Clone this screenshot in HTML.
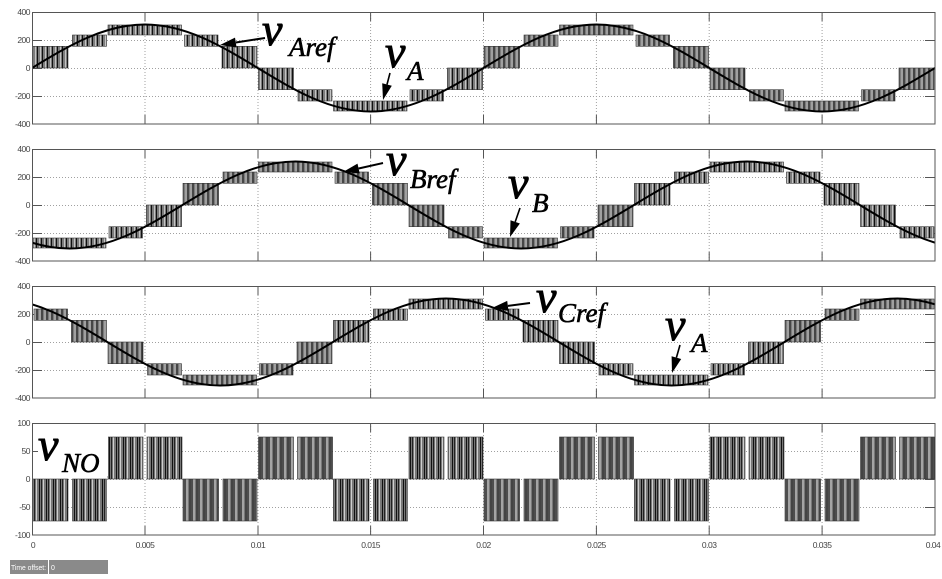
<!DOCTYPE html>
<html>
<head>
<meta charset="utf-8">
<style>
  html,body{margin:0;padding:0;background:#fff;}
  svg{display:block;}
  .tl{font-family:"Liberation Sans",sans-serif;font-size:8.5px;fill:#444;letter-spacing:-0.5px;}
  .v{font-family:"Liberation Serif",serif;font-style:italic;font-size:46px;fill:#000;stroke:#000;stroke-width:0.9px;}
  .s{font-family:"Liberation Serif",serif;font-style:italic;font-size:27px;fill:#000;stroke:#000;stroke-width:0.6px;}
</style>
</head>
<body>
<svg width="942" height="579" viewBox="0 0 942 579" xmlns="http://www.w3.org/2000/svg">
  <defs>
    <pattern id="pw" patternUnits="userSpaceOnUse" width="5" height="10">
      <rect width="5" height="10" fill="#7c7c7c"/>
      <rect x="0" width="1" height="10" fill="#111"/>
      <rect x="3" width="1" height="10" fill="#c4c4c4"/>
    </pattern>
    <pattern id="pw2" patternUnits="userSpaceOnUse" width="7" height="10">
      <rect width="7" height="10" fill="#787878"/>
      <rect x="0" width="1" height="10" fill="#111"/>
      <rect x="2" width="1" height="10" fill="#222"/>
      <rect x="4" width="1" height="10" fill="#cfcfcf"/>
    </pattern>
    <g id="ax">
      <g stroke="#a0a0a0" stroke-width="1" stroke-dasharray="1 2" fill="none">
        <line x1="32" y1="28.5" x2="935" y2="28.5"/>
        <line x1="32" y1="56.5" x2="935" y2="56.5"/>
        <line x1="32" y1="84.5" x2="935" y2="84.5"/>
        <line x1="145" y1="0" x2="145" y2="112"/>
        <line x1="258" y1="0" x2="258" y2="112"/>
        <line x1="370.6" y1="0" x2="370.6" y2="112"/>
        <line x1="483.5" y1="0" x2="483.5" y2="112"/>
        <line x1="596.4" y1="0" x2="596.4" y2="112"/>
        <line x1="709.2" y1="0" x2="709.2" y2="112"/>
        <line x1="822.1" y1="0" x2="822.1" y2="112"/>
      </g>
      <g stroke="#555" stroke-width="1">
        <line x1="32" y1="28.5" x2="42" y2="28.5"/>
        <line x1="32" y1="56.5" x2="42" y2="56.5"/>
        <line x1="32" y1="84.5" x2="42" y2="84.5"/>
        <line x1="925" y1="28.5" x2="935" y2="28.5"/>
        <line x1="925" y1="56.5" x2="935" y2="56.5"/>
        <line x1="925" y1="84.5" x2="935" y2="84.5"/>
        <line x1="145" y1="0" x2="145" y2="9"/><line x1="145" y1="103" x2="145" y2="112"/>
        <line x1="258" y1="0" x2="258" y2="9"/><line x1="258" y1="103" x2="258" y2="112"/>
        <line x1="370.6" y1="0" x2="370.6" y2="9"/><line x1="370.6" y1="103" x2="370.6" y2="112"/>
        <line x1="483.5" y1="0" x2="483.5" y2="9"/><line x1="483.5" y1="103" x2="483.5" y2="112"/>
        <line x1="596.4" y1="0" x2="596.4" y2="9"/><line x1="596.4" y1="103" x2="596.4" y2="112"/>
        <line x1="709.2" y1="0" x2="709.2" y2="9"/><line x1="709.2" y1="103" x2="709.2" y2="112"/>
        <line x1="822.1" y1="0" x2="822.1" y2="9"/><line x1="822.1" y1="103" x2="822.1" y2="112"/>
      </g>
    </g>
    <g id="fr"><rect x="32.5" y="0.5" width="902.5" height="111.5" fill="none" stroke="#555" stroke-width="1"/></g>
    <g id="stA" fill="url(#pw)" stroke="#333" stroke-width="0.6">
      <rect x="0.5" y="-21.7" width="35.5" height="21.7"/>
      <rect x="40.5" y="-33" width="34" height="11.3"/>
      <rect x="76" y="-43" width="73.5" height="10"/>
      <rect x="152.5" y="-33" width="33.5" height="11.3"/>
      <rect x="190" y="-21.7" width="35" height="21.7"/>
      <rect x="226.5" y="0" width="35" height="21.7"/>
      <rect x="266" y="21.7" width="34" height="11.3"/>
      <rect x="301.5" y="33" width="73.5" height="10"/>
      <rect x="378" y="21.7" width="33.5" height="11.3"/>
      <rect x="415.5" y="0" width="35" height="21.7"/>
    </g>
    <g id="nA" fill="url(#pw2)" stroke="#333" stroke-width="0.6">
      <rect x="0.5" y="0" width="35.5" height="42"/>
      <rect x="40.5" y="0" width="34" height="42"/>
      <rect x="76" y="-42" width="35" height="42"/>
      <rect x="115" y="-42" width="35" height="42"/>
    </g>
    <clipPath id="c1"><rect x="32" y="12" width="903" height="112"/></clipPath>
    <clipPath id="c2"><rect x="32" y="149" width="903" height="112"/></clipPath>
    <clipPath id="c3"><rect x="32" y="286" width="903" height="112"/></clipPath>
    <clipPath id="c4"><rect x="32" y="423" width="903" height="112"/></clipPath>
  </defs>

  <!-- axes grids -->
  <use href="#ax" transform="translate(0,12)"/>
  <use href="#ax" transform="translate(0,149)"/>
  <use href="#ax" transform="translate(0,286)"/>
  <use href="#ax" transform="translate(0,423)"/>

  <!-- Plot 1 -->
  <g clip-path="url(#c1)">
    <use href="#stA" transform="translate(32,68)"/>
    <use href="#stA" transform="translate(483.5,68)"/>
    <path d="M32,68 c36.81,-22.31 72.03,-43.54 112.875,-43.54 c40.85,0 76.07,21.23 112.875,43.54 c36.81,22.31 72.03,43.54 112.875,43.54 c40.85,0 76.07,-21.23 112.875,-43.54 c36.81,-22.31 72.03,-43.54 112.875,-43.54 c40.85,0 76.07,21.23 112.875,43.54 c36.81,22.31 72.03,43.54 112.875,43.54 c40.85,0 76.07,-21.23 112.875,-43.54" fill="none" stroke="#000" stroke-width="2"/>
  </g>

  <!-- Plot 2 -->
  <g clip-path="url(#c2)">
    <use href="#stA" transform="translate(-269,205)"/>
    <use href="#stA" transform="translate(182.5,205)"/>
    <use href="#stA" transform="translate(634,205)"/>
    <path d="M-269,205 c36.81,-22.31 72.03,-43.54 112.875,-43.54 c40.85,0 76.07,21.23 112.875,43.54 c36.81,22.31 72.03,43.54 112.875,43.54 c40.85,0 76.07,-21.23 112.875,-43.54 c36.81,-22.31 72.03,-43.54 112.875,-43.54 c40.85,0 76.07,21.23 112.875,43.54 c36.81,22.31 72.03,43.54 112.875,43.54 c40.85,0 76.07,-21.23 112.875,-43.54 c36.81,-22.31 72.03,-43.54 112.875,-43.54 c40.85,0 76.07,21.23 112.875,43.54 c36.81,22.31 72.03,43.54 112.875,43.54 c40.85,0 76.07,-21.23 112.875,-43.54" fill="none" stroke="#000" stroke-width="2"/>
  </g>

  <!-- Plot 3 -->
  <g clip-path="url(#c3)">
    <use href="#stA" transform="translate(-118.5,342)"/>
    <use href="#stA" transform="translate(333,342)"/>
    <use href="#stA" transform="translate(784.5,342)"/>
    <path d="M-118.5,342 c36.81,-22.31 72.03,-43.54 112.875,-43.54 c40.85,0 76.07,21.23 112.875,43.54 c36.81,22.31 72.03,43.54 112.875,43.54 c40.85,0 76.07,-21.23 112.875,-43.54 c36.81,-22.31 72.03,-43.54 112.875,-43.54 c40.85,0 76.07,21.23 112.875,43.54 c36.81,22.31 72.03,43.54 112.875,43.54 c40.85,0 76.07,-21.23 112.875,-43.54 c36.81,-22.31 72.03,-43.54 112.875,-43.54 c40.85,0 76.07,21.23 112.875,43.54 c36.81,22.31 72.03,43.54 112.875,43.54 c40.85,0 76.07,-21.23 112.875,-43.54" fill="none" stroke="#000" stroke-width="2"/>
  </g>

  <!-- Plot 4 -->
  <g clip-path="url(#c4)">
    <use href="#nA" transform="translate(32,479)"/>
    <use href="#nA" transform="translate(182.5,479)"/>
    <use href="#nA" transform="translate(333,479)"/>
    <use href="#nA" transform="translate(483.5,479)"/>
    <use href="#nA" transform="translate(634,479)"/>
    <use href="#nA" transform="translate(784.5,479)"/>
  </g>

  <!-- frames -->
  <use href="#fr" transform="translate(0,12)"/>
  <use href="#fr" transform="translate(0,149)"/>
  <use href="#fr" transform="translate(0,286)"/>
  <use href="#fr" transform="translate(0,423)"/>

  <!-- y tick labels -->
  <g class="tl" text-anchor="end">
    <text x="30" y="15">400</text><text x="30" y="43">200</text><text x="30" y="71">0</text><text x="30" y="99">-200</text><text x="30" y="127">-400</text>
    <text x="30" y="152">400</text><text x="30" y="180">200</text><text x="30" y="208">0</text><text x="30" y="236">-200</text><text x="30" y="264">-400</text>
    <text x="30" y="289">400</text><text x="30" y="317">200</text><text x="30" y="345">0</text><text x="30" y="373">-200</text><text x="30" y="401">-400</text>
    <text x="30" y="426">100</text><text x="30" y="454">50</text><text x="30" y="482">0</text><text x="30" y="510">-50</text><text x="30" y="538">-100</text>
  </g>
  <!-- x tick labels -->
  <g class="tl" text-anchor="middle">
    <text x="33" y="548">0</text>
    <text x="145" y="548">0.005</text>
    <text x="258" y="548">0.01</text>
    <text x="370.6" y="548">0.015</text>
    <text x="483.5" y="548">0.02</text>
    <text x="596.4" y="548">0.025</text>
    <text x="709.2" y="548">0.03</text>
    <text x="822.1" y="548">0.035</text>
    <text x="933" y="548">0.04</text>
  </g>

  <!-- Annotations -->
  <g fill="#000" stroke="none">
    <!-- plot 1 Aref -->
    <line x1="265" y1="38" x2="235.8" y2="42.5" stroke="#000" stroke-width="2"/>
    <polygon points="220,45 235,37.6 236.6,47.5"/>
    <text class="v" x="262" y="45">v</text><text class="s" x="289" y="56">Aref</text>
    <!-- plot 1 vA -->
    <line x1="390" y1="73" x2="387" y2="84.5" stroke="#000" stroke-width="1.6"/>
    <polygon points="383,100 382.2,83.3 391.8,85.8"/>
    <text class="v" x="385" y="67">v</text><text class="s" x="407" y="80">A</text>
    <!-- plot 2 Bref -->
    <line x1="383" y1="163" x2="358.6" y2="168.5" stroke="#000" stroke-width="2"/>
    <polygon points="343,172 357.5,163.6 359.7,173.4"/>
    <text class="v" x="386" y="175">v</text><text class="s" x="410" y="188">Bref</text>
    <!-- plot 2 vB -->
    <line x1="520" y1="208" x2="515.2" y2="221.9" stroke="#000" stroke-width="1.6"/>
    <polygon points="510,237 510.5,220.3 519.9,223.5"/>
    <text class="v" x="508" y="198">v</text><text class="s" x="532" y="212">B</text>
    <!-- plot 3 Cref -->
    <line x1="530" y1="303" x2="507.9" y2="305.9" stroke="#000" stroke-width="2"/>
    <polygon points="492,308 507.2,300.9 508.5,310.9"/>
    <text class="v" x="536" y="312">v</text><text class="s" x="558" y="322">Cref</text>
    <!-- plot 3 vA -->
    <line x1="680" y1="345" x2="676.4" y2="357.6" stroke="#000" stroke-width="1.6"/>
    <polygon points="672,373 671.6,356.2 681.2,359"/>
    <text class="v" x="665" y="340">v</text><text class="s" x="691" y="352">A</text>
    <!-- plot 4 vNO -->
    <rect x="38" y="430" width="70" height="46" fill="#fff"/>
    <text class="v" x="38" y="460">v</text><text class="s" x="62" y="472">NO</text>
  </g>

  <!-- time offset box -->
  <rect x="10" y="560" width="38" height="14" fill="#8a8a8a"/>
  <rect x="49" y="560" width="59" height="14" fill="#8a8a8a"/>
  <text x="11" y="570" font-family="Liberation Sans, sans-serif" font-size="7" fill="#fff" textLength="35" lengthAdjust="spacingAndGlyphs">Time offset:</text>
  <text x="51" y="570" font-family="Liberation Sans, sans-serif" font-size="7" fill="#fff">0</text>
</svg>
</body>
</html>
